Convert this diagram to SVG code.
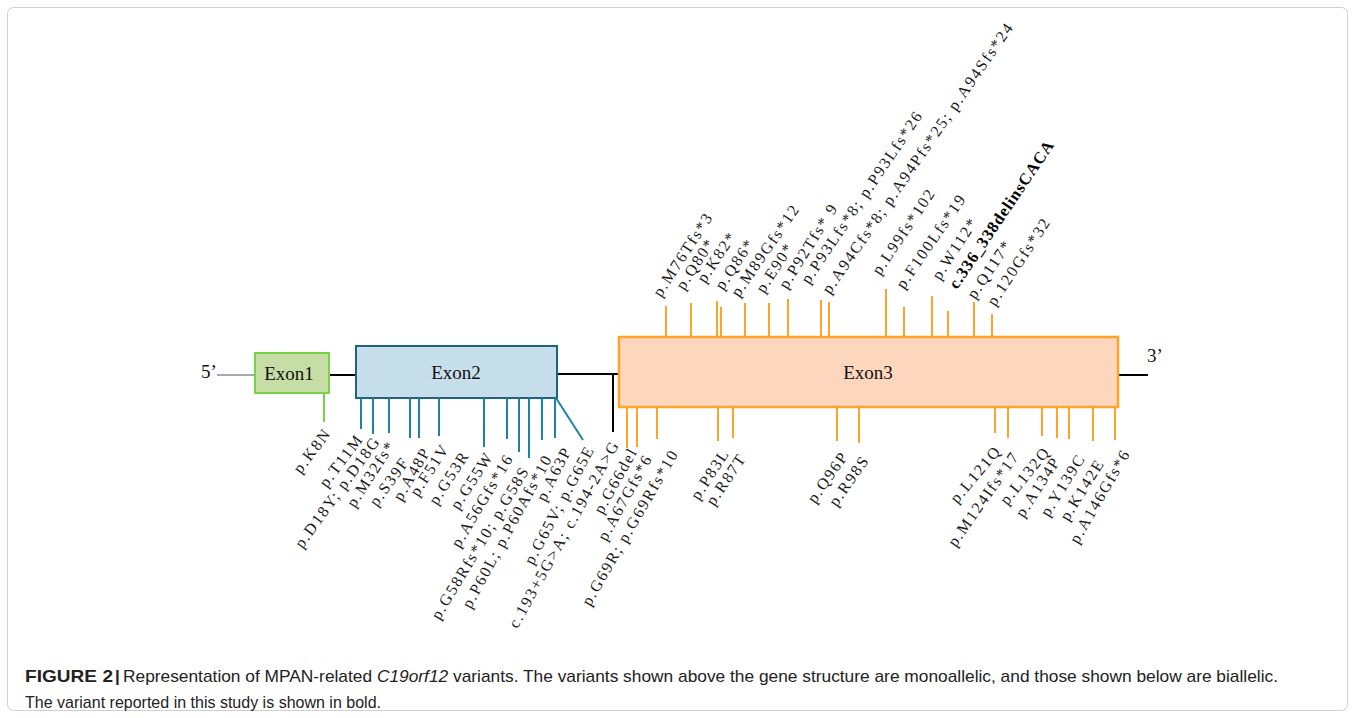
<svg xmlns="http://www.w3.org/2000/svg" width="1355" height="718" viewBox="0 0 1355 718">
<style>
.lbl{font-family:"Liberation Serif","Times New Roman",serif;font-size:16px;letter-spacing:1.75px;fill:#1a1a1a}
.b{font-weight:bold;font-size:16.5px;letter-spacing:0.9px;fill:#000}
.ex{font-family:"Liberation Serif","Times New Roman",serif;font-size:19px;fill:#111;text-anchor:middle}
.end{font-family:"Liberation Serif","Times New Roman",serif;font-size:19px;fill:#111}
.org{stroke:#ffa42b;stroke-width:2;fill:none}
.teal{stroke:#1b84a6;stroke-width:2;fill:none}
.grn{stroke:#79d24c;stroke-width:2;fill:none}
.blk{stroke:#000;stroke-width:2;fill:none}
.cap{font-family:"Liberation Sans",Arial,sans-serif;font-size:17px;fill:#222}
</style>
<rect x="0" y="0" width="1355" height="718" fill="#fff"/>
<rect x="7.5" y="7.5" width="1340" height="703" rx="6" fill="none" stroke="#d0d0d0" stroke-width="1"/>

<g id="connectors">
  <line x1="217" y1="375" x2="255" y2="375" stroke="#555" stroke-width="1.2"/>
  <line class="blk" x1="329" y1="375" x2="356" y2="375"/>
  <line class="blk" x1="557" y1="374" x2="619" y2="374"/>
  <line class="blk" x1="613" y1="374" x2="613" y2="432"/>
  <line class="blk" x1="1118" y1="375" x2="1148" y2="375"/>
</g>

<g id="exon1">
  <rect x="255" y="353" width="74" height="40" fill="#c6dea6" stroke="#79d24c" stroke-width="2"/>
  <text class="ex" x="289" y="380">Exon1</text>
</g>
<g id="exon2">
  <rect x="356" y="346" width="201" height="52" fill="#c7deeb" stroke="#1d6680" stroke-width="2"/>
  <text class="ex" x="456" y="379">Exon2</text>
</g>
<g id="exon3">
  <rect x="619" y="337" width="499" height="70" fill="#fdd6be" stroke="#ffa42b" stroke-width="2.5"/>
  <text class="ex" x="868" y="379">Exon3</text>
</g>
<g id="ends">
  <text class="end" x="201" y="378">5’</text>
  <text class="end" x="1147" y="362">3’</text>
</g>

<g id="ticks-top" class="org">
  <line x1="666" y1="306" x2="666" y2="336"/>
  <line x1="691" y1="303" x2="691" y2="336"/>
  <line x1="717" y1="301" x2="717" y2="336"/>
  <line x1="721" y1="307" x2="721" y2="336"/>
  <line x1="745" y1="303" x2="745" y2="336"/>
  <line x1="769" y1="303" x2="769" y2="336"/>
  <line x1="788" y1="299" x2="788" y2="336"/>
  <line x1="821" y1="300" x2="821" y2="336"/>
  <line x1="829" y1="302" x2="829" y2="336"/>
  <line x1="886" y1="289" x2="886" y2="336"/>
  <line x1="904" y1="307" x2="904" y2="336"/>
  <line x1="932" y1="296" x2="932" y2="336"/>
  <line x1="948" y1="311" x2="948" y2="336"/>
  <line x1="974" y1="302" x2="974" y2="336"/>
  <line x1="992" y1="314" x2="992" y2="336"/>
</g>

<g id="ticks-bottom">
  <line class="grn" x1="324" y1="393" x2="324" y2="422"/>
  <g class="teal">
    <line x1="361" y1="398" x2="361" y2="429"/>
    <line x1="373" y1="398" x2="373" y2="434"/>
    <line x1="389" y1="398" x2="389" y2="433"/>
    <line x1="410" y1="398" x2="410" y2="438"/>
    <line x1="419" y1="398" x2="419" y2="438"/>
    <line x1="439" y1="398" x2="439" y2="436"/>
    <line x1="484" y1="398" x2="484" y2="447"/>
    <line x1="507" y1="398" x2="507" y2="439"/>
    <line x1="519" y1="398" x2="519" y2="452"/>
    <line x1="529" y1="398" x2="529" y2="458"/>
    <line x1="542" y1="398" x2="542" y2="440"/>
    <line x1="555" y1="398" x2="555" y2="438"/>
    <line x1="556" y1="398" x2="583" y2="440"/>
  </g>
  <g class="org">
    <line x1="627" y1="407" x2="627" y2="448"/>
    <line x1="637" y1="407" x2="637" y2="447"/>
    <line x1="657" y1="407" x2="657" y2="439"/>
    <line x1="718" y1="407" x2="718" y2="441"/>
    <line x1="733" y1="407" x2="733" y2="438"/>
    <line x1="837" y1="407" x2="837" y2="441"/>
    <line x1="859" y1="407" x2="859" y2="443"/>
    <line x1="995" y1="407" x2="995" y2="433"/>
    <line x1="1008" y1="407" x2="1008" y2="438"/>
    <line x1="1042" y1="407" x2="1042" y2="436"/>
    <line x1="1057" y1="407" x2="1057" y2="438"/>
    <line x1="1069" y1="407" x2="1069" y2="439"/>
    <line x1="1093" y1="407" x2="1093" y2="441"/>
    <line x1="1115" y1="407" x2="1115" y2="440"/>
  </g>
</g>

<g id="labels-top" class="lbl">
  <text transform="translate(661,298) rotate(-57)">p.M76Tfs*3</text>
  <text transform="translate(684,291) rotate(-57)">p.Q80*</text>
  <text transform="translate(705,284) rotate(-56)">p.K82*</text>
  <text transform="translate(723,291) rotate(-56)">p.Q86*</text>
  <text transform="translate(739,298) rotate(-55.5)">p.M89Gfs*12</text>
  <text transform="translate(764,294) rotate(-57)">p.E90*</text>
  <text transform="translate(787,290) rotate(-58)">p.P92Tfs* 9</text>
  <text transform="translate(809,285) rotate(-56)">p.P93Lfs*8; p.P93Lfs*26</text>
  <text transform="translate(830,295) rotate(-55.5)">p.A94Cfs*8; p.A94Pfs*25; p.A94Sfs*24</text>
  <text transform="translate(880,276) rotate(-56)">p.L99fs*102</text>
  <text transform="translate(904,290) rotate(-55.5)">p.F100Lfs*19</text>
  <text transform="translate(940,281) rotate(-57)">p.W112*</text>
  <text class="b" transform="translate(957,290) rotate(-56)">c.336_338delinsCACA</text>
  <text transform="translate(975,300) rotate(-56)">p.Q117*</text>
  <text transform="translate(995,307) rotate(-56.5)">p.120Gfs*32</text>
</g>

<g id="labels-bottom" class="lbl" text-anchor="end">
  <text transform="translate(332,433) rotate(-53)">p.K8N</text>
  <text transform="translate(364,439) rotate(-53)">p.T11M</text>
  <text transform="translate(381,441) rotate(-54)">p.D18Y; p.D18G</text>
  <text transform="translate(396,445) rotate(-57)">p.M32fs*</text>
  <text transform="translate(410,462) rotate(-54)">p.S39F</text>
  <text transform="translate(431,451) rotate(-60)">p.A48P</text>
  <text transform="translate(450,448) rotate(-57)">p.F51V</text>
  <text transform="translate(470,455) rotate(-57)">p.G53R</text>
  <text transform="translate(494,456) rotate(-57)">p.G55W</text>
  <text transform="translate(514,458) rotate(-59)">p.A56Gfs*16</text>
  <text transform="translate(530,470) rotate(-59)">p.G58Rfs*10; p.G58S</text>
  <text transform="translate(553,458) rotate(-61.5)">p.P60L; p.P60Afs*10</text>
  <text transform="translate(572,450) rotate(-63)">p.A63P</text>
  <text transform="translate(595,449) rotate(-62)">p.G65V; p.G65E</text>
  <text transform="translate(620,444) rotate(-61)">c.193+5G&gt;A; c.194-2A&gt;G</text>
  <text transform="translate(638,451) rotate(-61)">p.G66del</text>
  <text transform="translate(653,458) rotate(-61)">p.A67Gfs*6</text>
  <text transform="translate(679,453) rotate(-60)">p.G69R; p.G69Rfs*10</text>
  <text transform="translate(730,453) rotate(-57)">p.P83L</text>
  <text transform="translate(747,458) rotate(-56)">p.R87T</text>
  <text transform="translate(849,456) rotate(-55)">p.Q96P</text>
  <text transform="translate(870,460) rotate(-55)">p.R98S</text>
  <text transform="translate(1002,451) rotate(-50)">p.L121Q</text>
  <text transform="translate(1020,456) rotate(-55)">p.M124Ifs*17</text>
  <text transform="translate(1051,452) rotate(-51)">p.L132Q</text>
  <text transform="translate(1061,461) rotate(-57)">p.A134P</text>
  <text transform="translate(1086,458) rotate(-58)">p.Y139C</text>
  <text transform="translate(1105,463) rotate(-58)">p.K142E</text>
  <text transform="translate(1131,453) rotate(-60)">p.A146Gfs*6</text>
</g>

<g id="caption">
  <text class="cap" x="25" y="682"><tspan font-weight="bold" textLength="88" lengthAdjust="spacingAndGlyphs">FIGURE 2</tspan><tspan x="115" font-weight="bold">|</tspan><tspan x="123" textLength="1155" lengthAdjust="spacingAndGlyphs">Representation of MPAN-related <tspan font-style="italic">C19orf12</tspan> variants. The variants shown above the gene structure are monoallelic, and those shown below are biallelic.</tspan></text>
  <text class="cap" x="25" y="708" textLength="356" lengthAdjust="spacingAndGlyphs">The variant reported in this study is shown in bold.</text>
</g>
</svg>
